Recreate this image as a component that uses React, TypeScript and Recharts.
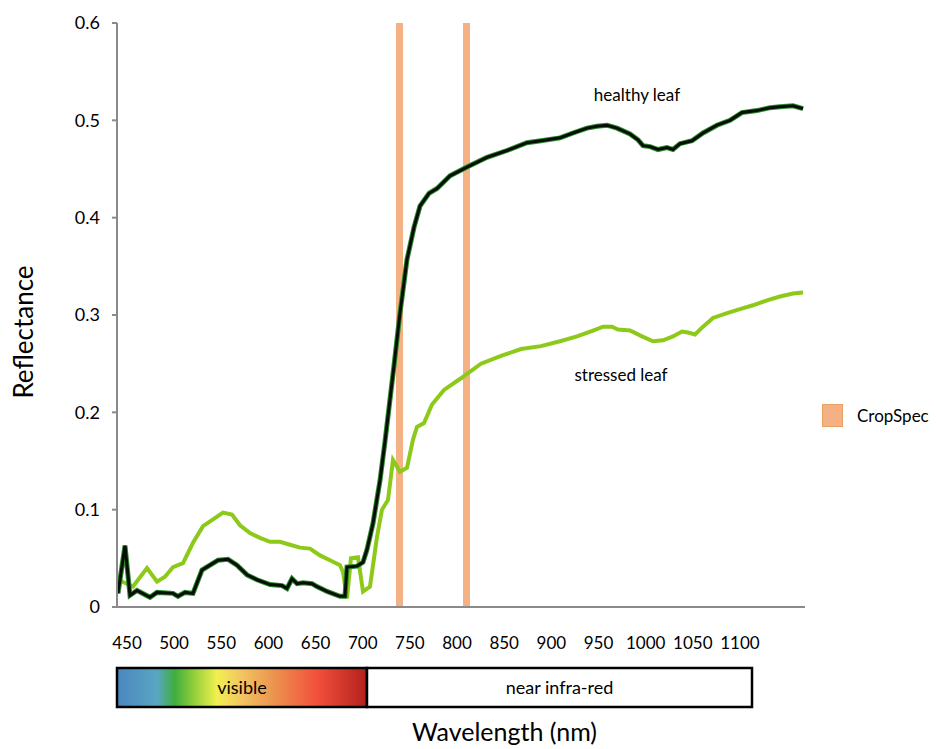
import { ComposedChart, Line, XAxis, YAxis, ReferenceArea, ReferenceDot, Legend } from 'recharts';

// wavelengths (nm) and reflectance
const healthyNm = [451, 458, 463, 470, 483, 490, 506, 511, 518, 526, 535, 543, 551, 561, 570, 580, 590, 603, 615, 620, 625, 630, 636, 645, 650, 660, 673, 678, 680, 690, 696, 700, 706, 713, 718, 727, 733, 740, 747, 753, 762, 770, 783, 800, 820, 840, 860, 874, 893, 906, 920, 930, 940, 950, 963, 971, 976, 983, 991, 1000, 1006, 1013, 1025, 1036, 1050, 1063, 1075, 1090, 1103, 1113, 1126, 1136];
const healthyVal = [0.014, 0.063, 0.012, 0.017, 0.01, 0.015, 0.014, 0.011, 0.015, 0.014, 0.038, 0.043, 0.048, 0.049, 0.043, 0.033, 0.028, 0.023, 0.022, 0.019, 0.029, 0.024, 0.025, 0.024, 0.021, 0.016, 0.011, 0.011, 0.041, 0.042, 0.046, 0.059, 0.086, 0.13, 0.17, 0.248, 0.302, 0.357, 0.39, 0.412, 0.425, 0.43, 0.443, 0.452, 0.462, 0.469, 0.477, 0.479, 0.482, 0.487, 0.492, 0.494, 0.495, 0.492, 0.486, 0.48, 0.474, 0.473, 0.47, 0.472, 0.47, 0.476, 0.479, 0.487, 0.495, 0.5, 0.508, 0.51, 0.513, 0.514, 0.515, 0.512];

const stressedNm = [451, 466, 480, 490, 498, 506, 516, 526, 536, 546, 556, 565, 573, 583, 593, 603, 613, 623, 633, 643, 653, 663, 673, 676, 680, 684, 691, 696, 703, 710, 715, 721, 726, 733, 740, 746, 750, 757, 765, 777, 794, 814, 834, 854, 874, 893, 910, 926, 936, 945, 951, 963, 975, 986, 996, 1006, 1015, 1021, 1028, 1036, 1046, 1060, 1073, 1086, 1100, 1113, 1126, 1136];
const stressedVal = [0.028, 0.021, 0.04, 0.026, 0.031, 0.041, 0.045, 0.066, 0.083, 0.09, 0.097, 0.095, 0.084, 0.076, 0.071, 0.067, 0.067, 0.064, 0.061, 0.06, 0.053, 0.048, 0.043, 0.036, 0.009, 0.05, 0.051, 0.016, 0.021, 0.072, 0.1, 0.11, 0.151, 0.139, 0.143, 0.172, 0.185, 0.189, 0.208, 0.223, 0.235, 0.25, 0.258, 0.265, 0.268, 0.273, 0.278, 0.284, 0.288, 0.288, 0.285, 0.284, 0.278, 0.273, 0.274, 0.278, 0.283, 0.282, 0.28, 0.288, 0.297, 0.302, 0.306, 0.31, 0.315, 0.319, 0.322, 0.323];

// CropSpec sensor bands (nm)
const cropSpecFrom = [729, 796];
const cropSpecTo = [736, 803];

const yTicks = [0, 0.1, 0.2, 0.3, 0.4, 0.5, 0.6];
const xTickLabels = [450, 500, 550, 600, 650, 700, 750, 800, 850, 900, 950, 1000, 1050, 1100];

const spectrumNames = ['visible', 'near infra-red'];
const spectrumFrom = [450, 700];
const spectrumTo = [700, 1085];

const healthy = healthyNm.map((nm, i) => ({ nm, v: healthyVal[i] }));
const stressed = stressedNm.map((nm, i) => ({ nm, v: stressedVal[i] }));
const tickRow = xTickLabels.map((nm) => ({ nm, v: null }));
const spectrumRow = [...spectrumFrom, spectrumTo[spectrumTo.length - 1]].map((nm) => ({ nm, v: 0.5 }));

const ORANGE = '#F4B183';
const W = 937;

function CropSpecLegend() {
  return (
    <div style={{ display: 'flex', alignItems: 'center', fontSize: 17, color: '#000' }}>
      <span style={{ width: 19, height: 21, background: ORANGE, border: '1px solid #eaa062', marginRight: 14 }} />
      CropSpec
    </div>
  );
}

export default function App() {
  return (
    <div style={{ position: 'absolute', left: 0, top: 0, width: W, height: 749, background: '#fff', fontFamily: 'Lato, sans-serif', overflow: 'hidden' }}>
      <div style={{ position: 'absolute', left: 0, top: 0 }}>
        <ComposedChart width={W} height={680} margin={{ top: 23, right: 132, left: 0, bottom: 23 }}>
          <XAxis xAxisId="nm" dataKey="nm" type="number" domain={[450, 1138]} allowDataOverflow hide />
          <XAxis
            xAxisId="lbl"
            dataKey="nm"
            type="number"
            domain={[439.4, 1169]}
            allowDataOverflow
            ticks={xTickLabels}
            interval={0}
            height={50}
            tickLine={false}
            tickSize={0}
            tickMargin={30}
            axisLine={{ stroke: '#8a8a8a', strokeWidth: 2 }}
            tick={{ fill: '#000', fontSize: 17 }}
          />
          <YAxis
            domain={[0, 0.6]}
            ticks={yTicks}
            width={117}
            tickSize={5}
            tickMargin={12}
            tickFormatter={(v: number) => (v === 0 ? '0' : v.toFixed(1))}
            axisLine={{ stroke: '#8a8a8a', strokeWidth: 2 }}
            tickLine={{ stroke: '#8a8a8a', strokeWidth: 2 }}
            tick={{ fill: '#000', fontSize: 18 }}
            label={{
              content: ({ viewBox }: any) => {
                const cx = 33;
                const cy = viewBox.y + viewBox.height / 2 + 17;
                return (
                  <text x={cx} y={cy} transform={`rotate(-90 ${cx} ${cy})`} textAnchor="middle" fontSize={26} fill="#000">
                    Reflectance
                  </text>
                );
              },
            }}
          />
          {cropSpecFrom.map((from, i) => (
            <ReferenceArea
              key={'cs' + i}
              xAxisId="nm"
              x1={from}
              x2={cropSpecTo[i]}
              y1={0}
              y2={0.6}
              fill={ORANGE}
              fillOpacity={1}
              stroke="none"
            />
          ))}
          <Line xAxisId="lbl" data={tickRow} dataKey="v" name="ticks" stroke="none" dot={false} isAnimationActive={false} legendType="none" />
          <Line xAxisId="nm" data={stressed} dataKey="v" name="stressed leaf" type="linear" stroke="#8DC919" strokeWidth={4} dot={false} isAnimationActive={false} legendType="none" />
          <Line xAxisId="nm" data={healthy} dataKey="v" name="healthy leaf edge" type="linear" stroke="#2f8a2f" strokeWidth={5} dot={false} isAnimationActive={false} legendType="none" />
          <Line xAxisId="nm" data={healthy} dataKey="v" name="healthy leaf" type="linear" stroke="#050f05" strokeWidth={3} dot={false} isAnimationActive={false} legendType="none" />
          <ReferenceDot xAxisId="nm" x={970} y={0.526} r={0} fill="none" stroke="none" label={{ value: 'healthy leaf', position: 'center', fill: '#000', fontSize: 17 }} />
          <ReferenceDot xAxisId="nm" x={954} y={0.238} r={0} fill="none" stroke="none" label={{ value: 'stressed leaf', position: 'center', fill: '#000', fontSize: 17 }} />
          <Legend
            layout="vertical"
            align="center"
            verticalAlign="middle"
            content={() => <CropSpecLegend />}
            wrapperStyle={{ left: 822, top: 404, width: 115 }}
          />
        </ComposedChart>
      </div>
      <div style={{ position: 'absolute', left: 0, top: 655 }}>
        <ComposedChart width={W} height={94} data={spectrumRow} margin={{ top: 13, right: 132, left: 117, bottom: 42 }}>
          <defs>
            <linearGradient id="spec" x1="0" y1="0" x2="1" y2="0">
              <stop offset="0%" stopColor="#4a86bf" />
              <stop offset="16%" stopColor="#5aa6c2" />
              <stop offset="23%" stopColor="#3fae3f" />
              <stop offset="31%" stopColor="#95cf3a" />
              <stop offset="40%" stopColor="#f2f050" />
              <stop offset="50%" stopColor="#f2c462" />
              <stop offset="62%" stopColor="#ec9650" />
              <stop offset="80%" stopColor="#f2503c" />
              <stop offset="100%" stopColor="#b3201c" />
            </linearGradient>
          </defs>
          <XAxis dataKey="nm" type="number" domain={[450, 1138]} allowDataOverflow hide />
          <YAxis domain={[0, 1]} allowDataOverflow hide />
          <Line dataKey="v" stroke="none" dot={false} isAnimationActive={false} legendType="none" />
          {spectrumNames.map((name, i) => (
            <ReferenceArea
              key={name}
              x1={spectrumFrom[i]}
              x2={spectrumTo[i]}
              y1={0}
              y2={1}
              fill={i === 0 ? 'url(#spec)' : '#fff'}
              fillOpacity={1}
              stroke="#000"
              strokeWidth={2.5}
              label={{ value: name, position: 'center', fill: '#000', fontSize: 18 }}
            />
          ))}
        </ComposedChart>
      </div>
      <div style={{ position: 'absolute', left: 412, top: 719, fontSize: 25, lineHeight: '25px', color: '#000', whiteSpace: 'nowrap' }}>Wavelength (nm)</div>
    </div>
  );
}
